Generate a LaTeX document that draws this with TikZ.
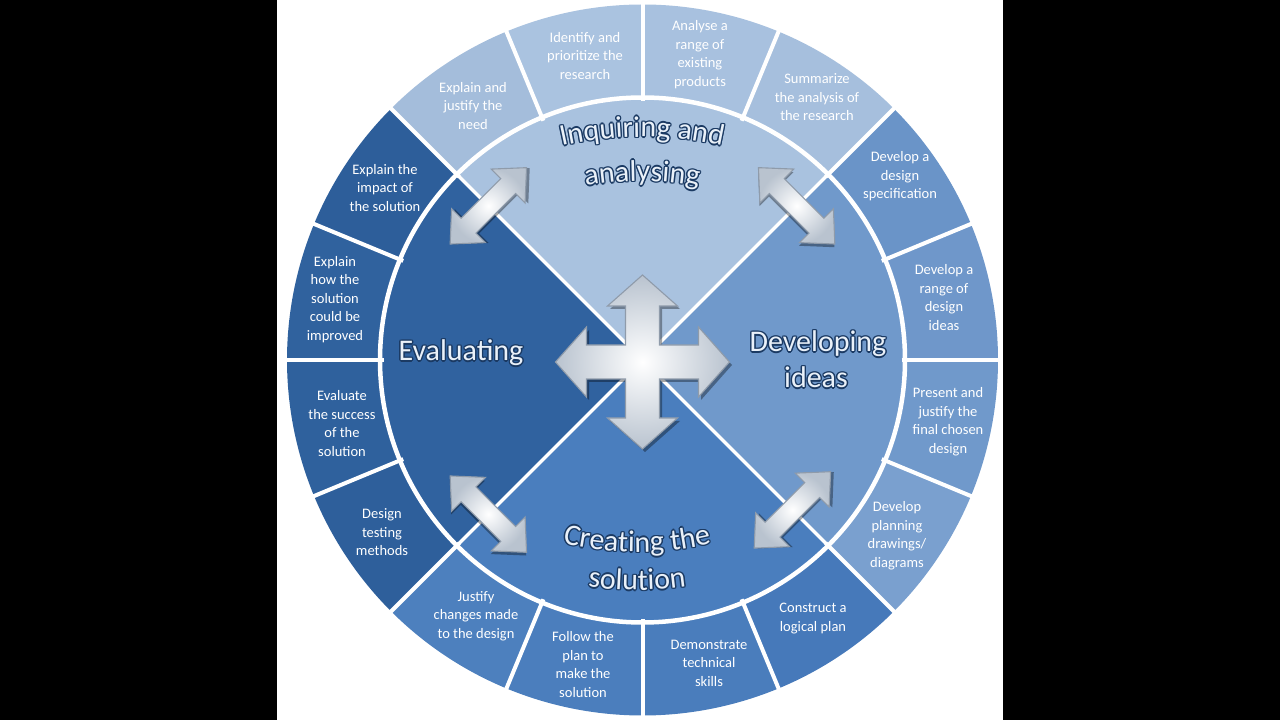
\documentclass[tikz,border=0pt]{standalone}
\usepackage{fontspec}
\setmainfont{Carlito}
\usetikzlibrary{decorations.text}
\definecolor{sA}{HTML}{A4BDDB}
\definecolor{sB}{HTML}{AAC3E0}
\definecolor{sC}{HTML}{A8C1DF}
\definecolor{sD}{HTML}{A6BFDD}
\definecolor{sE}{HTML}{6A94C8}
\definecolor{sF}{HTML}{6F97CA}
\definecolor{sG}{HTML}{7099CB}
\definecolor{sH}{HTML}{7AA0CF}
\definecolor{sI}{HTML}{4679BA}
\definecolor{sJ}{HTML}{4A7DBC}
\definecolor{sK}{HTML}{4B7EBD}
\definecolor{sL}{HTML}{4D80BE}
\definecolor{sM}{HTML}{2E5F9B}
\definecolor{sN}{HTML}{2F619D}
\definecolor{sO}{HTML}{30629E}
\definecolor{sP}{HTML}{2D5E9A}
\definecolor{qT}{HTML}{A9C2DF}
\definecolor{qR}{HTML}{7099CB}
\definecolor{qB}{HTML}{4A7EBE}
\definecolor{qL}{HTML}{30629F}
\definecolor{olcol}{HTML}{1B3A63}
\definecolor{lblcol}{HTML}{EAF1F9}
\definecolor{arrowedge}{HTML}{8F9BAA}
\definecolor{arrowgray}{HTML}{B9C3CF}
\newcommand\ringsize{\fontsize{14.5}{18.5}\selectfont}
\newcommand\bigsize{\fontsize{30}{36}\selectfont}
\newcommand\outlined[4]{%
  \foreach \dx/\dy in {1.4/0,-1.4/0,0/1.4,0/-1.4,1/1,-1/1,1/-1,-1/-1}{
    \node[bigtxt,text=olcol,xshift=\dx,yshift=\dy] at (#2,#3) {#4};}
  \node[bigtxt,text=lblcol] (#1) at (#2,#3) {#4};}
\newcommand\arclabel[6]{%
  \foreach \dx/\dy in {1.4/0,-1.4/0,0/1.4,0/-1.4,1/1,-1/1,1/-1,-1/-1}{
    \path[shift={(#1,#2)},xshift=\dx,yshift=\dy,
      decoration={text along path,text={|\bigsize\color{olcol}|#6},text align=center},decorate]
      (#4:#3) arc[start angle=#4,end angle=#5,radius=#3];}
  \path[shift={(#1,#2)},
    decoration={text along path,text={|\bigsize\color{lblcol}|#6},text align=center},decorate]
    (#4:#3) arc[start angle=#4,end angle=#5,radius=#3];}
\tikzset{
  sep/.style={white,line width=4},
  ringtxt/.style={text=white,font=\ringsize,align=center,inner sep=0},
  bigtxt/.style={font=\bigsize,inner sep=0,anchor=base},
  arrowbody/.style={inner color=white,outer color=arrowgray,draw=arrowedge,line width=1.1,line join=miter},
  arrowshadow/.style={fill=black,opacity=0.35},
  dblarrow/.pic={
    \fill[arrowshadow,shift={(2,-2.5)}] (-54,0) -- (-28,24) -- (-28,10.5) -- (28,10.5) -- (28,24) -- (54,0) -- (28,-24) -- (28,-10.5) -- (-28,-10.5) -- (-28,-24) -- cycle;
    \path[arrowbody] (-54,0) -- (-28,24) -- (-28,10.5) -- (28,10.5) -- (28,24) -- (54,0) -- (28,-24) -- (28,-10.5) -- (-28,-10.5) -- (-28,-24) -- cycle;
  },
  crossarrow/.pic={
    \fill[arrowshadow,shift={(2.5,-3)}] (0,87) -- (35,56) -- (17,56) -- (17,17) -- (56,17) -- (56,35) -- (87,0) -- (56,-35) -- (56,-17) -- (17,-17) -- (17,-56) -- (35,-56) -- (0,-87) -- (-35,-56) -- (-17,-56) -- (-17,-17) -- (-56,-17) -- (-56,-35) -- (-87,0) -- (-56,35) -- (-56,17) -- (-17,17) -- (-17,56) -- (-35,56) -- cycle;
    \path[arrowbody] (0,87) -- (35,56) -- (17,56) -- (17,17) -- (56,17) -- (56,35) -- (87,0) -- (56,-35) -- (56,-17) -- (17,-17) -- (17,-56) -- (35,-56) -- (0,-87) -- (-35,-56) -- (-17,-56) -- (-17,-17) -- (-56,-17) -- (-56,-35) -- (-87,0) -- (-56,35) -- (-56,17) -- (-17,17) -- (-17,56) -- (-35,56) -- cycle;
  }
}
\begin{document}
\begin{tikzpicture}[x=1pt,y=1pt]
\useasboundingbox (0,0) rectangle (1280,720);
\fill[black] (0,0) rectangle (1280,720);
\fill[white] (277,0) rectangle (1003,720);
\begin{scope}[shift={(642.5,360)}]
  % ring segments
  \foreach \a/\c in {112.5/sA,90/sB,67.5/sC,45/sD,22.5/sE,0/sF,-22.5/sG,-45/sH,-67.5/sI,-90/sJ,-112.5/sK,-135/sL,-157.5/sM,-180/sN,157.5/sO,135/sP}{
    \fill[fill=\c] (\a:262) -- (\a:355.5) arc[start angle=\a,end angle=\a+22.5,radius=355.5] -- (\a+22.5:262) arc[start angle=\a+22.5,end angle=\a,radius=262] -- cycle;
  }
  % quadrants
  \fill[qT] (0,0) -- (45:263) arc[start angle=45,end angle=135,radius=263] -- cycle;
  \fill[qR] (0,0) -- (-45:263) arc[start angle=-45,end angle=45,radius=263] -- cycle;
  \fill[qB] (0,0) -- (-135:263) arc[start angle=-135,end angle=-45,radius=263] -- cycle;
  \fill[qL] (0,0) -- (135:263) arc[start angle=135,end angle=225,radius=263] -- cycle;
  % separators
  \foreach \a in {0,22.5,...,337.5}{\draw[sep] (\a:259) -- (\a:358);}
  \draw[sep,line width=3.5] (45:263) -- (225:263);
  \draw[sep,line width=3.5] (135:263) -- (315:263);
  \draw[sep,line width=4.5] (0,0) circle[radius=262.5];
  % arrows
  \pic[rotate=45] at (135:218) {dblarrow};
  \pic[rotate=-45] at (45:218) {dblarrow};
  \pic[rotate=45] at (-45:212) {dblarrow};
  \pic[rotate=-45] at (-135:218) {dblarrow};
  \pic at (0,-2) {crossarrow};
\end{scope}
% ring texts
\node[ringtxt] (n1) at (473,614) {Explain and\\justify the\\need};
\node[ringtxt] (n2) at (585,664) {Identify and\\prioritize the\\research};
\node[ringtxt] (n3) at (700,665.5) {Analyse a\\range of\\existing\\products};
\node[ringtxt] (n4) at (817,622.5) {Summarize\\the analysis of\\the research};
\node[ringtxt] (n5) at (900,543.5) {Develop a\\design\\specification};
\node[ringtxt] (n6) at (944,422.5) {Develop a\\range of\\design\\ideas};
\node[ringtxt] (n7) at (948,298.5) {Present and\\justify the\\final chosen\\design};
\node[ringtxt] (n8) at (897,184.5) {Develop\\planning\\drawings/\\diagrams};
\node[ringtxt] (n9) at (813,101.5) {Construct a\\logical plan};
\node[ringtxt] (n10) at (709,57) {Demonstrate\\technical\\skills};
\node[ringtxt] (n11) at (583,55.5) {Follow the\\plan to\\make the\\solution};
\node[ringtxt] (n12) at (476,104) {Justify\\changes made\\to the design};
\node[ringtxt] (n13) at (382,187.5) {Design\\testing\\methods};
\node[ringtxt] (n14) at (342,296.5) {Evaluate\\the success\\of the\\solution};
\node[ringtxt] (n15) at (335,420.5) {Explain\\how the\\solution\\could be\\improved};
\node[ringtxt] (n16) at (385,532) {Explain the\\impact of\\the solution};
% quadrant labels
\outlined{eval}{461}{359}{Evaluating}
\outlined{dev1}{818}{368}{Developing}
\outlined{dev2}{816}{332}{ideas}
\arclabel{642}{217}{366}{112}{68}{Inquiring and}
\arclabel{642}{217}{322}{112}{68}{analysing}
\arclabel{637}{490}{322}{245}{295}{Creating the}
\arclabel{637}{490}{360}{248}{292}{solution}
\end{tikzpicture}
\end{document}
